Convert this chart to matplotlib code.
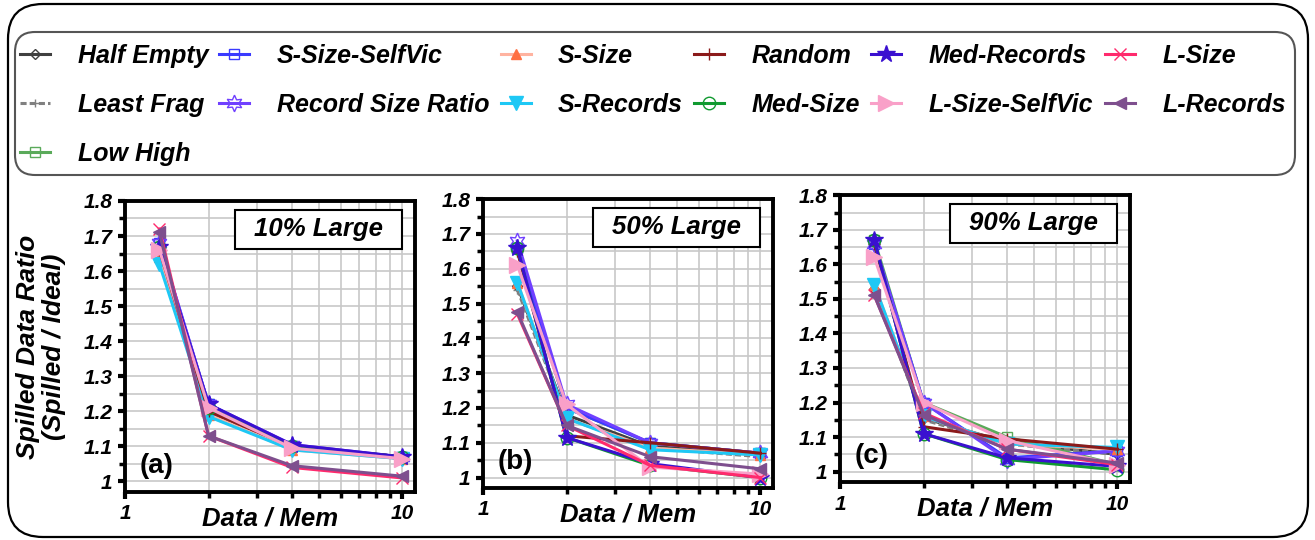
import matplotlib
matplotlib.use("Agg")
import matplotlib.pyplot as plt
from matplotlib.patches import FancyBboxPatch, Rectangle
from matplotlib.ticker import LogLocator, NullFormatter, FixedLocator, MultipleLocator, FuncFormatter

plt.rcParams['font.family'] = ['Liberation Sans', 'DejaVu Sans']

x = [1.33, 2, 4, 10]
names = ["Half Empty", "Least Frag", "Low High", "S-Size-SelfVic", "Record Size Ratio",
         "S-Size", "S-Records", "Random", "Med-Size", "Med-Records",
         "L-Size-SelfVic", "L-Size", "L-Records"]
panels = ["10% Large", "50% Large", "90% Large"]
tags = ["(a)", "(b)", "(c)"]

# values per series: one list per panel (a, b, c)
half_empty   = [[1.66, 1.20, 1.10, 1.07],  [1.55, 1.18, 1.09, 1.065], [1.53, 1.155, 1.085, 1.05]]
least_frag   = [[1.65, 1.20, 1.095, 1.065], [1.54, 1.17, 1.085, 1.06], [1.53, 1.15, 1.08, 1.05]]
low_high     = [[1.67, 1.22, 1.10, 1.07],  [1.66, 1.20, 1.10, 1.07],  [1.67, 1.20, 1.10, 1.02]]
s_size_sv    = [[1.68, 1.22, 1.10, 1.07],  [1.66, 1.20, 1.10, 1.07],  [1.66, 1.20, 1.04, 1.06]]
rec_ratio    = [[1.68, 1.22, 1.105, 1.07], [1.68, 1.21, 1.10, 1.07],  [1.66, 1.20, 1.035, 1.06]]
s_size       = [[1.64, 1.19, 1.09, 1.065], [1.56, 1.17, 1.085, 1.065], [1.54, 1.16, 1.08, 1.065]]
s_records    = [[1.62, 1.185, 1.09, 1.065], [1.56, 1.17, 1.08, 1.065], [1.54, 1.16, 1.08, 1.07]]
random_      = [[1.66, 1.20, 1.10, 1.07],  [1.65, 1.12, 1.10, 1.07],  [1.66, 1.13, 1.095, 1.065]]
med_size     = [[1.67, 1.21, 1.10, 1.07],  [1.66, 1.115, 1.035, 1.00], [1.67, 1.11, 1.035, 1.005]]
med_records  = [[1.67, 1.22, 1.105, 1.07], [1.66, 1.115, 1.04, 1.00], [1.67, 1.11, 1.04, 1.015]]
l_size_sv    = [[1.66, 1.21, 1.095, 1.065], [1.61, 1.21, 1.03, 1.01], [1.62, 1.20, 1.09, 1.02]]
l_size       = [[1.72, 1.13, 1.04, 1.01],  [1.47, 1.15, 1.035, 1.00], [1.51, 1.17, 1.065, 1.02]]
l_records    = [[1.71, 1.13, 1.045, 1.015], [1.475, 1.15, 1.06, 1.025], [1.51, 1.165, 1.065, 1.025]]

series = [half_empty, least_frag, low_high, s_size_sv, rec_ratio, s_size, s_records,
          random_, med_size, med_records, l_size_sv, l_size, l_records]

styles = [
    dict(color='#404040', marker='D', ms=5, mfc='none'),
    dict(color='#808080', marker='+', ms=6, ls=(0, (2, 1))),
    dict(color='#5aaa5a', marker='s', ms=7, mfc='none'),
    dict(color='#3a3aff', marker='s', ms=7, mfc='none'),
    dict(color='#7040ff', marker=(6, 1, 0), ms=12, mfc='none'),
    dict(color='#ffb3a0', marker='^', ms=7, mfc='#ff7043', mec='#ff7043'),
    dict(color='#1ec8f5', marker='v', ms=10),
    dict(color='#8b1a1a', marker='+', ms=8),
    dict(color='#109a30', marker='o', ms=9, mfc='none'),
    dict(color='#3a10d0', marker='*', ms=13),
    dict(color='#f9a0c8', marker='>', ms=11),
    dict(color='#ff2a6d', marker='x', ms=8),
    dict(color='#7e4f8e', marker='<', ms=8),
]

fig = plt.figure(figsize=(13.15, 5.4), dpi=100)

# outer frame and legend frame
fig.patches.append(FancyBboxPatch((0.08, 0.03), 13.0, 5.33, boxstyle="round,pad=0,rounding_size=0.35",
                                  transform=fig.dpi_scale_trans, fc='none', ec='black', lw=1.6))
fig.patches.append(FancyBboxPatch((0.15, 3.65), 12.8, 1.43, boxstyle="round,pad=0,rounding_size=0.2",
                                  transform=fig.dpi_scale_trans, fc='none', ec='#555555', lw=1.5))

boxes = [(0.0951, 0.0889, 0.2205, 0.539), (0.3673, 0.0963, 0.2205, 0.535), (0.6388, 0.1074, 0.2205, 0.531)]
bi = dict(fontweight='bold', fontstyle='italic')

handles = None
for p, rect in enumerate(boxes):
    ax = fig.add_axes(rect)
    hs = []
    for s, st in zip(series, styles):
        h, = ax.plot(x, s[p], lw=2.2, **st)
        hs.append(h)
    if handles is None:
        handles = hs
    ax.set_xscale('log')
    ax.set_xlim(1, 11.1)
    ax.set_ylim(0.97, 1.8)
    ax.xaxis.set_major_locator(FixedLocator([1, 10]))
    ax.xaxis.set_minor_locator(LogLocator(base=10, subs=range(2, 10)))
    ax.xaxis.set_minor_formatter(NullFormatter())
    ax.xaxis.set_major_formatter(FuncFormatter(lambda v, _: "%g" % v))
    ax.yaxis.set_major_locator(MultipleLocator(0.1))
    ax.yaxis.set_minor_locator(MultipleLocator(0.05))
    ax.yaxis.set_major_formatter(FuncFormatter(lambda v, _: "%g" % round(v, 1)))
    ax.grid(True, which='both', color='#c8c8c8', lw=1.2)
    ax.set_axisbelow(True)
    for sp in ax.spines.values():
        sp.set_linewidth(2.8)
    ax.tick_params(which='major', length=5, width=3, labelsize=15, pad=4)
    ax.tick_params(which='minor', length=4, width=2.5)
    for lab in ax.get_xticklabels() + ax.get_yticklabels():
        lab.set_fontweight('bold')
        lab.set_fontstyle('italic')
    ax.set_xlabel("Data / Mem", fontsize=18.5, labelpad=-12, **bi)
    if p == 0:
        ax.set_ylabel("Spilled Data Ratio\n(Spilled / Ideal)", fontsize=19, linespacing=1.1,
                      labelpad=13, **bi)
    ax.add_patch(Rectangle((0.38, 0.835), 0.575, 0.135, transform=ax.transAxes, fc='white',
                           ec='black', lw=1.5, zorder=5))
    ax.text(0.667, 0.902, panels[p], transform=ax.transAxes, ha='center', va='center',
            fontsize=18.5, zorder=6, **bi)
    ax.text(0.05, 0.09, tags[p], transform=ax.transAxes, ha='left', va='center',
            fontsize=20, fontweight='bold', zorder=6)

fig.legend(handles, names, ncol=6, loc='upper left', frameon=False,
           bbox_to_anchor=(20 / 1315, 1 - 44 / 540),
           prop=dict(family='Liberation Sans', weight='bold', style='italic', size=18),
           handlelength=1.2, handletextpad=1.1, labelspacing=1.0, columnspacing=0.45,
           borderaxespad=0, borderpad=0)

fig.savefig("out.png", dpi=100)
